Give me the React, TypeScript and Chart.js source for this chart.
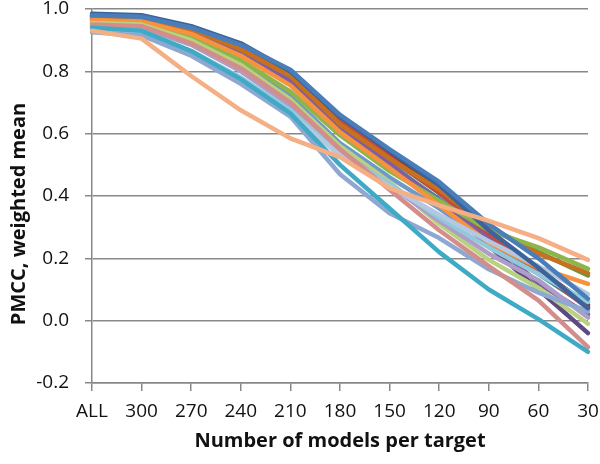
import React, { useEffect, useRef } from 'react';
import { Chart, registerables } from 'chart.js';

Chart.register(...registerables);

const categories = ['ALL', '300', '270', '240', '210', '180', '150', '120', '90', '60', '30'];

const peach = [0.93, 0.905, 0.785, 0.675, 0.585, 0.525, 0.425, 0.37, 0.32, 0.265, 0.195];
const cyan = [0.94, 0.93, 0.865, 0.775, 0.665, 0.5, 0.36, 0.22, 0.1, 0.005, -0.1];
const pink = [0.95, 0.945, 0.89, 0.81, 0.7, 0.55, 0.42, 0.29, 0.175, 0.065, -0.085];
const periwinkle = [0.925, 0.915, 0.85, 0.76, 0.655, 0.47, 0.345, 0.265, 0.165, 0.09, 0.03];
const paleBlue = [0.93, 0.92, 0.86, 0.77, 0.665, 0.53, 0.43, 0.34, 0.255, 0.175, 0.085];
const lightCyan = [0.935, 0.93, 0.865, 0.78, 0.675, 0.535, 0.44, 0.33, 0.235, 0.15, 0.06];
const lavender = [0.945, 0.94, 0.885, 0.8, 0.69, 0.545, 0.435, 0.32, 0.215, 0.13, 0.01];
const lightGreen = [0.955, 0.95, 0.9, 0.82, 0.71, 0.56, 0.445, 0.31, 0.195, 0.105, -0.01];
const orange = [0.965, 0.96, 0.92, 0.85, 0.755, 0.605, 0.49, 0.37, 0.25, 0.17, 0.118];
const green = [0.96, 0.955, 0.91, 0.835, 0.735, 0.595, 0.48, 0.385, 0.29, 0.235, 0.166];
const darkOrange = [0.975, 0.97, 0.935, 0.87, 0.785, 0.63, 0.52, 0.42, 0.3, 0.215, 0.153];
const purple = [0.97, 0.965, 0.925, 0.86, 0.77, 0.62, 0.505, 0.385, 0.26, 0.12, 0.02];
const darkPurple = [0.965, 0.96, 0.92, 0.855, 0.765, 0.615, 0.5, 0.38, 0.24, 0.1, -0.04];
const red = [0.975, 0.97, 0.935, 0.875, 0.79, 0.64, 0.525, 0.41, 0.275, 0.16, 0.04];
const darkRed = [0.98, 0.975, 0.94, 0.88, 0.795, 0.645, 0.535, 0.42, 0.28, 0.165, 0.05];
const darkGreen = [0.975, 0.97, 0.93, 0.87, 0.78, 0.635, 0.52, 0.41, 0.3, 0.22, 0.145];
const darkCyan = [0.965, 0.96, 0.92, 0.85, 0.76, 0.61, 0.5, 0.39, 0.27, 0.15, 0.045];
const lightBlue = [0.955, 0.95, 0.9, 0.82, 0.72, 0.57, 0.46, 0.36, 0.25, 0.155, 0.058];
const darkBlue = [0.985, 0.98, 0.945, 0.89, 0.8, 0.655, 0.545, 0.435, 0.29, 0.17, 0.04];
const blue = [0.98, 0.975, 0.94, 0.885, 0.805, 0.66, 0.55, 0.445, 0.31, 0.2, 0.07];

const yTicks = [-0.2, 0, 0.2, 0.4, 0.6, 0.8, 1.0];

const xTitle = 'Number of models per target';
const yTitle = 'PMCC, weighted mean';

// first entry is drawn on top
const series: { values: number[]; color: string }[] = [
  { values: peach, color: '#F5AF85' },
  { values: cyan, color: '#3FAAC6' },
  { values: blue, color: '#4A7EBB' },
  { values: darkBlue, color: '#3C649A' },
  { values: pink, color: '#D38D8B' },
  { values: periwinkle, color: '#8FA8D2' },
  { values: paleBlue, color: '#B5C8E2' },
  { values: lightCyan, color: '#92C9DA' },
  { values: lavender, color: '#AE9DC6' },
  { values: lightGreen, color: '#B9D27F' },
  { values: orange, color: '#F7923F' },
  { values: green, color: '#8DB54A' },
  { values: darkOrange, color: '#C8701E' },
  { values: purple, color: '#7D5FA6' },
  { values: darkPurple, color: '#5E4984' },
  { values: red, color: '#BE4B48' },
  { values: darkRed, color: '#8E3432' },
  { values: darkGreen, color: '#6F9440' },
  { values: darkCyan, color: '#3289A2' },
  { values: lightBlue, color: '#6F98CB' },
];

const FONT = "'Open Sans', sans-serif";

// Y-axis title, drawn lower than the axis centre as in the original
const yTitlePlugin = {
  id: 'yTitle',
  afterDraw(chart: any) {
    const ctx = chart.ctx;
    ctx.save();
    ctx.translate(19, 214);
    ctx.rotate(-Math.PI / 2);
    ctx.font = `bold 20px ${FONT}`;
    ctx.fillStyle = '#111111';
    ctx.textAlign = 'center';
    ctx.textBaseline = 'middle';
    ctx.fillText(yTitle, 0, 0);
    ctx.restore();
  },
};

export default function App() {
  const ref = useRef<HTMLCanvasElement | null>(null);

  useEffect(() => {
    if (!ref.current) return;
    const chart = new Chart(ref.current, {
      type: 'line',
      data: {
        labels: categories,
        datasets: series.map((s, i) => ({
          label: 'Series ' + (i + 1),
          data: s.values,
          borderColor: s.color,
          backgroundColor: s.color,
          borderWidth: 4.5,
          pointRadius: 0,
          pointHoverRadius: 0,
          pointHitRadius: 0,
          tension: 0,
          fill: false,
          clip: 10,
          borderJoinStyle: 'round' as const,
          borderCapStyle: 'round' as const,
        })),
      },
      plugins: [yTitlePlugin],
      options: {
        animation: false,
        responsive: false,
        maintainAspectRatio: false,
        layout: { autoPadding: false, padding: 0 },
        plugins: {
          legend: { display: false },
          tooltip: { enabled: false },
        },
        scales: {
          x: {
            offset: false,
            grid: {
              drawOnChartArea: false,
              drawTicks: true,
              tickLength: 8,
              color: '#888888',
              lineWidth: 1.5,
            },
            border: { color: '#888888', width: 1.5 },
            ticks: {
              color: '#111111',
              font: { family: FONT, size: 19 },
              padding: 9,
              maxRotation: 0,
              autoSkip: false,
            },
            title: {
              display: true,
              text: xTitle,
              color: '#111111',
              font: { family: FONT, size: 20, weight: 'bold' },
              padding: { top: 0, bottom: 11 },
            },
            afterFit: (scale: any) => {
              scale.height = 81;
              scale.paddingLeft = 0;
              scale.paddingRight = 12;
            },
          },
          y: {
            min: -0.2,
            max: 1.0,
            afterBuildTicks: (scale: any) => {
              scale.ticks = yTicks.map((v) => ({ value: v }));
            },
            grid: {
              color: '#888888',
              lineWidth: 1.5,
              drawTicks: true,
              tickLength: 7,
            },
            border: { color: '#888888', width: 1.5 },
            ticks: {
              color: '#111111',
              font: { family: FONT, size: 19 },
              padding: 16,
              callback: (v: any) => Number(v).toFixed(1),
            },
            title: { display: false, text: yTitle },
            afterFit: (scale: any) => {
              scale.width = 92;
              scale.paddingTop = 9;
              scale.paddingBottom = 0;
            },
          },
        },
      },
    });
    return () => chart.destroy();
  }, []);

  return (
    <div style={{ position: 'fixed', left: 0, top: 0, width: 600, height: 464, background: '#fff' }}>
      <canvas ref={ref} width={600} height={464} style={{ width: 600, height: 464, display: 'block' }} />
    </div>
  );
}
